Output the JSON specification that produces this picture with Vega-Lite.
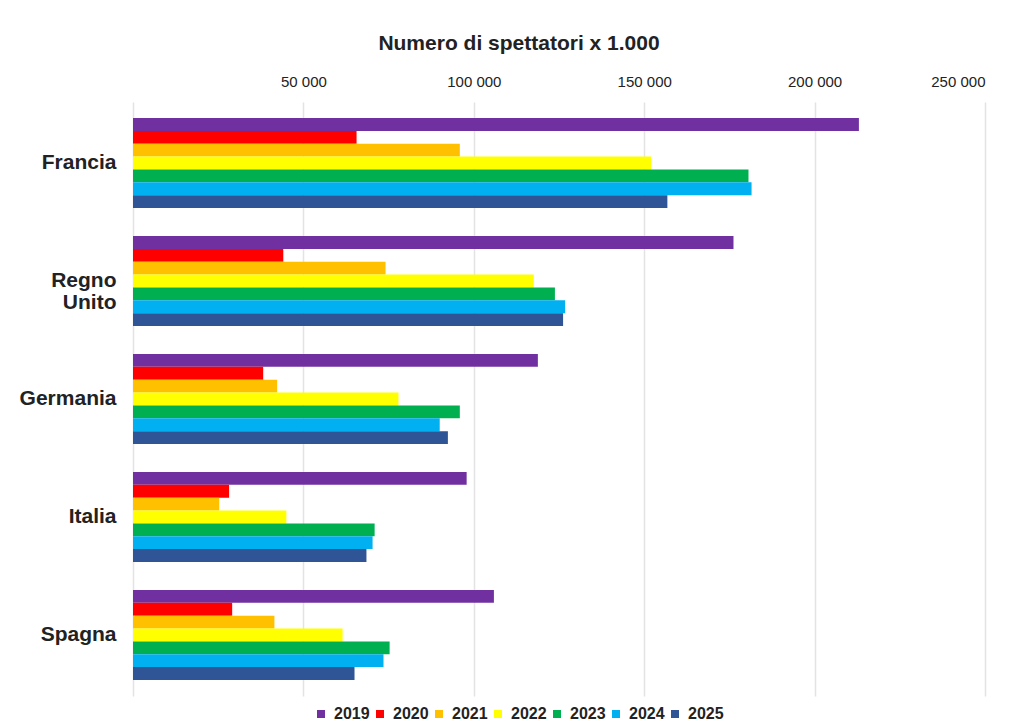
{
  "$schema": "https://vega.github.io/schema/vega-lite/v6.json",
  "width": 852,
  "height": 594,
  "autosize": "none",
  "padding": {"left": 133, "top": 102, "right": 29, "bottom": 28},
  "background": "white",
  "title": {
    "text": "Numero di spettatori x 1.000",
    "font": "Liberation Sans",
    "fontSize": 21,
    "fontWeight": "bold",
    "color": "#222222",
    "offset": 20,
    "dx": -40
  },
  "data": {
    "values": [
      {"paese": "Francia", "anno": "2019", "valore": 213000},
      {"paese": "Francia", "anno": "2020", "valore": 65600},
      {"paese": "Francia", "anno": "2021", "valore": 95900},
      {"paese": "Francia", "anno": "2022", "valore": 152000},
      {"paese": "Francia", "anno": "2023", "valore": 180600},
      {"paese": "Francia", "anno": "2024", "valore": 181500},
      {"paese": "Francia", "anno": "2025", "valore": 156800},
      {"paese": "Regno Unito", "anno": "2019", "valore": 176200},
      {"paese": "Regno Unito", "anno": "2020", "valore": 44100},
      {"paese": "Regno Unito", "anno": "2021", "valore": 74100},
      {"paese": "Regno Unito", "anno": "2022", "valore": 117600},
      {"paese": "Regno Unito", "anno": "2023", "valore": 123800},
      {"paese": "Regno Unito", "anno": "2024", "valore": 126800},
      {"paese": "Regno Unito", "anno": "2025", "valore": 126200},
      {"paese": "Germania", "anno": "2019", "valore": 118800},
      {"paese": "Germania", "anno": "2020", "valore": 38200},
      {"paese": "Germania", "anno": "2021", "valore": 42300},
      {"paese": "Germania", "anno": "2022", "valore": 77900},
      {"paese": "Germania", "anno": "2023", "valore": 95900},
      {"paese": "Germania", "anno": "2024", "valore": 90000},
      {"paese": "Germania", "anno": "2025", "valore": 92400},
      {"paese": "Italia", "anno": "2019", "valore": 97900},
      {"paese": "Italia", "anno": "2020", "valore": 28200},
      {"paese": "Italia", "anno": "2021", "valore": 25300},
      {"paese": "Italia", "anno": "2022", "valore": 45000},
      {"paese": "Italia", "anno": "2023", "valore": 70900},
      {"paese": "Italia", "anno": "2024", "valore": 70300},
      {"paese": "Italia", "anno": "2025", "valore": 68500},
      {"paese": "Spagna", "anno": "2019", "valore": 105900},
      {"paese": "Spagna", "anno": "2020", "valore": 29100},
      {"paese": "Spagna", "anno": "2021", "valore": 41500},
      {"paese": "Spagna", "anno": "2022", "valore": 61500},
      {"paese": "Spagna", "anno": "2023", "valore": 75300},
      {"paese": "Spagna", "anno": "2024", "valore": 73500},
      {"paese": "Spagna", "anno": "2025", "valore": 65000}
    ]
  },
  "mark": {"type": "bar"},
  "encoding": {
    "y": {
      "field": "paese",
      "type": "nominal",
      "sort": ["Francia", "Regno Unito", "Germania", "Italia", "Spagna"],
      "scale": {"paddingInner": 0.237, "paddingOuter": 0.136},
      "axis": {
        "title": null,
        "ticks": false,
        "domain": false,
        "labelFont": "Liberation Sans",
        "labelFontSize": 21,
        "labelFontWeight": "bold",
        "labelColor": "#222222",
        "labelPadding": 17,
        "labelLineHeight": 22,
        "labelExpr": "datum.value == 'Regno Unito' ? ['Regno', 'Unito'] : datum.value"
      }
    },
    "yOffset": {
      "field": "anno",
      "type": "nominal",
      "scale": {"paddingInner": 0, "paddingOuter": 0}
    },
    "x": {
      "field": "valore",
      "type": "quantitative",
      "scale": {"domain": [0, 250000], "nice": false},
      "axis": {
        "orient": "top",
        "title": null,
        "values": [0, 50000, 100000, 150000, 200000, 250000],
        "ticks": false,
        "domain": false,
        "grid": true,
        "gridColor": "#e3e3e3",
        "gridWidth": 1.5,
        "labelFont": "Liberation Sans",
        "labelFontSize": 15,
        "labelColor": "#222222",
        "labelPadding": 13,
        "labelExpr": "datum.value == 0 ? '' : replace(format(datum.value, ','), ',', ' ')"
      }
    },
    "color": {
      "field": "anno",
      "type": "nominal",
      "scale": {
        "domain": ["2019", "2020", "2021", "2022", "2023", "2024", "2025"],
        "range": ["#7030A0", "#FF0000", "#FFC000", "#FFFF00", "#00B050", "#00B0F0", "#2F5597"]
      },
      "legend": {
        "orient": "none",
        "legendX": 180,
        "legendY": 604,
        "direction": "horizontal",
        "title": null,
        "symbolType": "square",
        "symbolSize": 64,
        "symbolStrokeWidth": 0,
        "labelFont": "Liberation Sans",
        "labelFontSize": 16,
        "labelFontWeight": "bold",
        "labelColor": "#222222",
        "labelOffset": 5,
        "columnPadding": 2
      }
    }
  },
  "config": {
    "view": {"stroke": null}
  }
}
